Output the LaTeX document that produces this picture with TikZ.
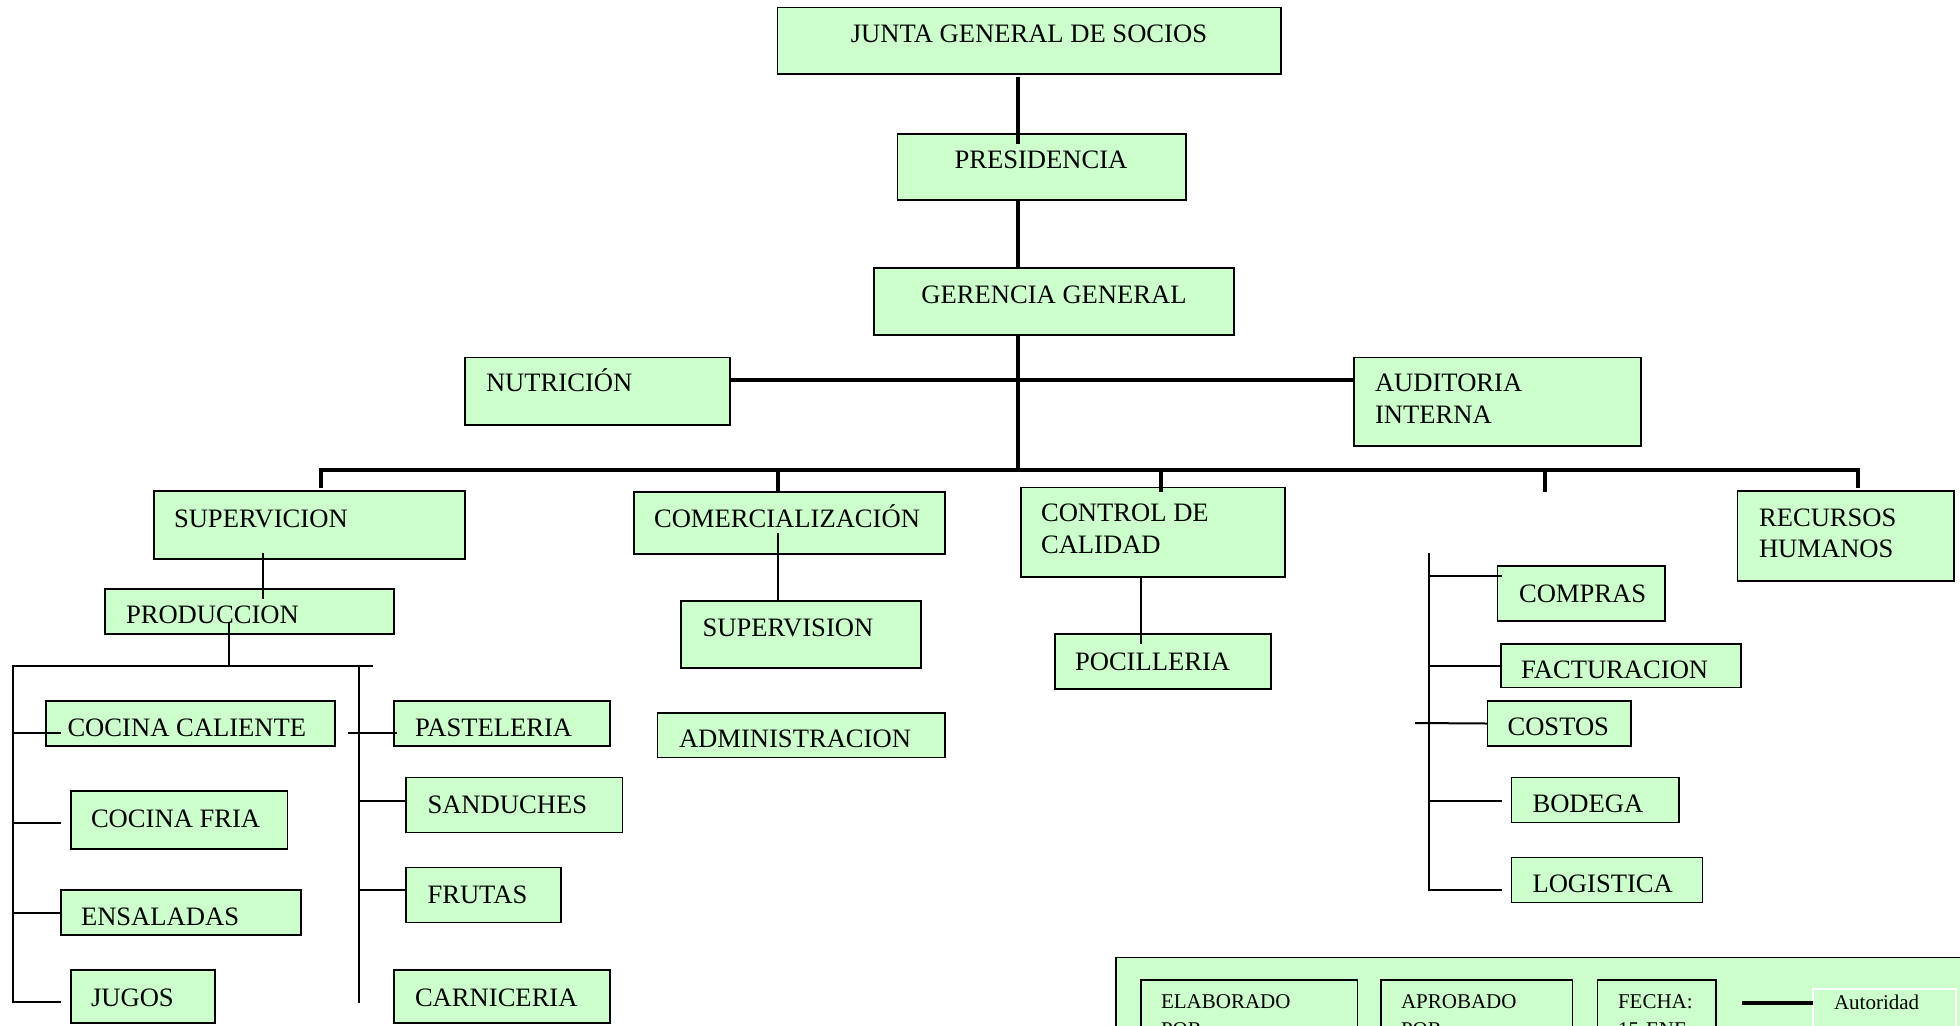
\documentclass[tikz,border=0pt]{standalone}
\usepackage{fontspec}
\setmainfont{Liberation Serif}
\usetikzlibrary{calc}
\definecolor{boxgreen}{HTML}{CCFFCC}
\tikzset{
  box/.style={rectangle, draw=black, fill=boxgreen, line width=0.9pt, inner sep=0pt, outer sep=0pt},
  wbox/.style={box, draw=white},
  txt/.style={inner sep=0pt, outer sep=0pt, font=\fontsize{13.3}{16}\selectfont},
  ltxt/.style={inner sep=0pt, outer sep=0pt, font=\fontsize{10.5}{14}\selectfont},
  thickline/.style={line width=2pt},
  midline/.style={line width=1pt},
  thinline/.style={line width=0.6pt},
}
\newcommand\bx[6][box]{\node[#1, minimum width={(#5-#3)*0.5pt}, minimum height={(#6-#4)*0.5pt}] (#2) at ({(#3+#5)/2},{(#4+#6)/2}) {};}
\newcommand\tx[4]{\node[txt, anchor=base west] (#1) at (#2,#3) {#4};}
\newcommand\tc[4]{\node[txt, anchor=base] (#1) at (#2,#3) {#4};}
\newcommand\lt[4]{\node[ltxt, anchor=base west] (#1) at (#2,#3) {#4};}
\begin{document}
\begin{tikzpicture}[x=0.5pt,y=-0.5pt]
\useasboundingbox (0,0) rectangle (1960,1025);
\clip (0,0) rectangle (1960,1025);
\fill[white] (0,0) rectangle (1960,1025);

% ---------- boxes ----------
\bx{junta}{777.5}{7.5}{1281}{74}
\bx{pres}{897.5}{134}{1186}{200}
\bx{ger}{874}{268}{1234}{335}
\bx{nut}{465}{357.5}{730}{425}
\bx{aud}{1354}{357.5}{1641}{446}
\bx{supv}{154}{491}{465}{559}
\bx{comer}{634}{492}{945}{554}
\bx{ctrl}{1021}{487.5}{1285}{577}
\bx{rrhh}{1737.5}{491}{1954}{581}
\bx{prod}{105}{589}{394}{634}
\bx{supn}{681}{601}{921}{668}
\bx{adm}{657.5}{713}{945}{757.5}
\bx{poc}{1055}{634}{1271}{689}
\bx{cc}{46}{701}{335}{746}
\bx{cf}{71}{791}{287.5}{849}
\bx{ens}{61}{890}{301}{935}
\bx{jug}{71}{970}{215}{1023}
\bx{pas}{394}{701}{610}{746}
\bx{san}{406}{777.5}{622.5}{832.5}
\bx{fru}{406}{867.5}{561}{922.5}
\bx{car}{394}{970}{610}{1023}
\bx{com}{1497.5}{566}{1665}{621}
\bx{fac}{1501}{644}{1741}{687.5}
\bx{cos}{1487.5}{701}{1631}{746}
\bx{bod}{1511.5}{777.5}{1679}{822.5}
\bx{log}{1511.5}{857.5}{1702.5}{902.5}
% legend
\bx{leg}{1116}{957.5}{1990}{1060}
\bx{elab}{1141}{980}{1357.5}{1060}
\bx{apro}{1381}{980}{1572.5}{1060}
\bx{fecha}{1597.5}{980}{1716}{1060}
\bx[wbox]{aut}{1813}{989}{1956}{1060}

% ---------- texts ----------
\tc{junta-t}{1029}{42.5}{JUNTA GENERAL DE SOCIOS}
\tc{pres-t}{1041}{168.8}{PRESIDENCIA}
\tc{ger-t}{1054}{303.8}{GERENCIA GENERAL}
\tx{nut-t}{486}{391.3}{NUTRICIÓN}
\tx{aud-t1}{1375}{391.3}{AUDITORIA}
\tx{aud-t2}{1375}{423.8}{INTERNA}
\tx{supv-t}{174}{527.5}{SUPERVICION}
\tx{comer-t}{654}{527.5}{COMERCIALIZACIÓN}
\tx{ctrl-t1}{1041}{521.3}{CONTROL DE}
\tx{ctrl-t2}{1041}{553.8}{CALIDAD}
\tx{rrhh-t1}{1759}{526.3}{RECURSOS}
\tx{rrhh-t2}{1759}{557.5}{HUMANOS}
\tx{prod-t}{126}{623.8}{PRODUCCION}
\tx{supn-t}{702.5}{636.3}{SUPERVISION}
\tx{adm-t}{679}{747.5}{ADMINISTRACION}
\tx{poc-t}{1075}{670}{POCILLERIA}
\tx{cc-t}{67.5}{736.3}{COCINA CALIENTE}
\tx{cf-t}{91}{827.5}{COCINA FRIA}
\tx{ens-t}{81}{925}{ENSALADAS}
\tx{jug-t}{91}{1006.3}{JUGOS}
\tx{pas-t}{415}{736.3}{PASTELERIA}
\tx{san-t}{427.5}{813.8}{SANDUCHES}
\tx{fru-t}{427.5}{903.8}{FRUTAS}
\tx{car-t}{415}{1006.3}{CARNICERIA}
\tx{com-t}{1519}{602.5}{COMPRAS}
\tx{fac-t}{1521}{678.8}{FACTURACION}
\tx{cos-t}{1507.5}{735}{COSTOS}
\tx{bod-t}{1532.5}{812.5}{BODEGA}
\tx{log-t}{1532.5}{892.5}{LOGISTICA}
\lt{elab-t1}{1161}{1008}{ELABORADO}
\lt{elab-t2}{1161}{1036}{POR}
\lt{apro-t1}{1401}{1008}{APROBADO}
\lt{apro-t2}{1401}{1036}{POR}
\lt{fecha-t1}{1618}{1008}{FECHA:}
\lt{fecha-t2}{1618}{1036}{15-ENE-}
\lt{aut-t}{1834}{1009}{Autoridad}

% ---------- coordinates ----------
\coordinate (busC) at (1018,470);
\coordinate (hline) at (1018,380);
\coordinate (barL) at (321,470);
\coordinate (barR) at (1858,470);
\coordinate (dC) at (778,470);
\coordinate (dQ) at (1161,470);
\coordinate (dE) at (1545,470);
\coordinate (dEend) at (1545,492);
\coordinate (xSP) at (263,0);
\coordinate (xCP) at (1141,0);
\coordinate (pbus) at (229,666);
\coordinate (lbL) at (13,666);
\coordinate (lbR) at (373,666);
\coordinate (lbB) at (13,1002);
\coordinate (jugB) at (61,1002);
\coordinate (ccB) at (61,733);
\coordinate (cfB) at (61,823);
\coordinate (rbT) at (359,666);
\coordinate (rbB) at (359,1003);
\coordinate (pasA) at (348,733);
\coordinate (pasB) at (397,733);
\coordinate (sanB) at (406,801);
\coordinate (fruB) at (406,890);
\coordinate (rgT) at (1429,553);
\coordinate (rgB) at (1429,890);
\coordinate (logB) at (1502,890);
\coordinate (comB) at (1502,576);
\coordinate (cosA) at (1415,723);
\coordinate (bodB) at (1502,801);
\coordinate (legA) at (1742,1003);

% ---------- connectors ----------
\draw[thickline] ($(junta.south -| busC)+(0,3)$) -- ($(pres.north -| busC)+(0,10)$);
\draw[thickline] (pres.south -| busC) -- (ger.north -| busC);
\draw[thickline] (ger.south -| busC) -- (busC);
\draw[thickline] (nut.east |- hline) -- (aud.west |- hline);
\draw[thickline] ($(supv.north -| barL)+(0,-3)$) -- (barL) -- (barR) -- ($(rrhh.north -| barR)+(0,-3)$);
\draw[thickline] (dC) -- (comer.north -| dC);
\draw[thickline] (dQ) -- ($(ctrl.north -| dQ)+(0,4)$);
\draw[thickline] (dE) -- (dEend);

\draw[thinline] ($(supv.south -| xSP)+(0,-6)$) -- ($(prod.north -| xSP)+(0,10)$);
\draw[thinline] ($(comer.south -| dC)+(0,-21)$) -- (supn.north -| dC);
\draw[thinline] (ctrl.south -| xCP) -- ($(poc.north -| xCP)+(0,10)$);

% produccion groups
\draw[midline] ($(prod.south -| pbus)+(0,-11)$) -- (pbus);
\draw[midline] (lbR) -- (lbL) -- (lbB) -- (jugB);
\draw[midline] (lbL |- ccB) -- (ccB);
\draw[midline] (lbL |- cfB) -- (cfB);
\draw[midline] (lbL |- ens.west) -- (ens.west);
\draw[midline] (rbT) -- (rbB);
\draw[midline] (pasA) -- (pasB);
\draw[midline] (rbT |- sanB) -- (sanB);
\draw[midline] (rbT |- fruB) -- (fruB);

% right group
\draw[midline] (rgT) -- (rgB) -- (logB);
\draw[midline] (rgT |- comB) -- (comB);
\draw[midline] (rgT |- fac.west) -- (fac.west);
\draw[midline] (cosA) -- (cos.west);
\draw[midline] (rgT |- bodB) -- (bodB);

% legend line
\draw[line width=2.4pt] (legA) -- (aut.west |- legA);
\end{tikzpicture}
\end{document}
